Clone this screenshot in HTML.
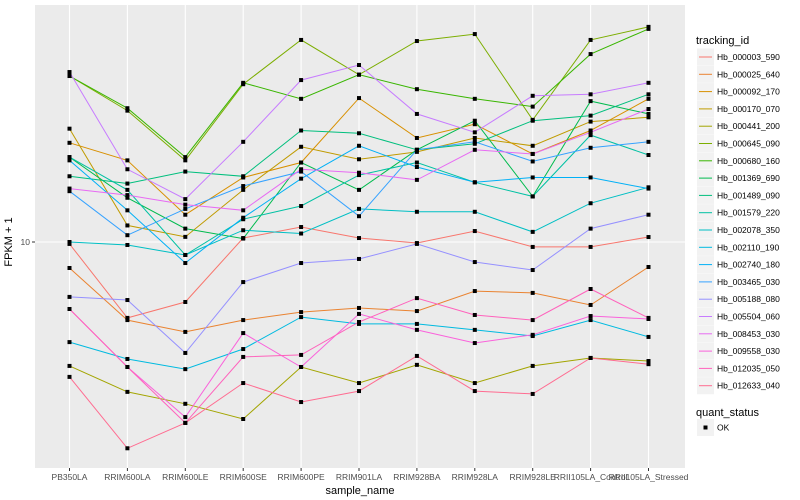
<!DOCTYPE html>
<html><head><meta charset="utf-8"><style>
body{margin:0;background:#fff;font-family:"Liberation Sans",sans-serif}
svg{display:block}
</style></head><body>
<svg id="chart" width="800" height="500">
<rect x="0" y="0" width="800" height="500" fill="#fff"/>
<rect x="35" y="5" width="650" height="463" fill="#ebebeb"/>
<g id="grid"></g>
<g id="series"></g>
<g id="axes"></g>
<text x="12" y="242" transform="rotate(-90 12 242)" text-anchor="middle" font-size="11" fill="#000">FPKM + 1</text>
<text x="360" y="494" text-anchor="middle" font-size="11" fill="#000">sample_name</text>
<g id="legend"></g>
</svg>
<script>
const categories = ["PB350LA","RRIM600LA","RRIM600LE","RRIM600SE","RRIM600PE","RRIM901LA","RRIM928BA","RRIM928LA","RRIM928LE","RRII105LA_Control","RRII105LA_Stressed"];
const seriesNames = ["Hb_000003_590","Hb_000025_640","Hb_000092_170","Hb_000170_070","Hb_000441_200","Hb_000645_090","Hb_000680_160","Hb_001369_690","Hb_001489_090","Hb_001579_220","Hb_002078_350","Hb_002110_190","Hb_002740_180","Hb_003465_030","Hb_005188_080","Hb_005504_060","Hb_008453_030","Hb_009558_030","Hb_012035_050","Hb_012633_040"];
const colors = ["#F8766D","#EA8331","#D89000","#C09B00","#A3A500","#7CAE00","#39B600","#00BB4E","#00BF7D","#00C1A3","#00BFC4","#00BAE0","#00B0F6","#35A2FF","#9590FF","#C77CFF","#E76BF3","#FA62DB","#FF62BC","#FF6C91"];
const s01 = [9.89,6.46,7.08,10.23,10.9,10.23,9.94,10.65,9.72,9.72,10.29];
const s02 = [8.61,6.38,5.96,6.38,6.68,6.84,6.72,7.54,7.46,6.96,8.66];
const s03 = [17.7,16.0,11.7,14.5,15.8,22.9,18.2,19.7,16.6,19.0,22.8];
const s04 = [19.2,11.0,10.3,13.5,17.3,16.1,16.8,18.2,17.4,20.0,20.5];
const s05 = [4.90,4.22,3.94,3.61,4.87,4.44,4.93,4.44,4.90,5.13,5.04];
const s06 = [26.0,21.3,16.0,24.8,32.0,26.2,31.8,33.1,20.2,32.0,34.5];
const s07 = [26.0,21.6,16.3,25.0,22.8,26.2,24.1,22.8,21.8,29.5,34.1];
const s08 = [16.3,12.9,10.8,10.2,15.8,13.5,17.0,20.1,13.0,22.5,20.9];
const s09 = [14.6,14.0,15.0,14.6,19.0,18.7,17.0,17.6,20.1,20.7,23.4];
const s10 = [16.3,13.5,9.28,11.4,12.3,14.7,15.8,14.1,13.0,18.5,16.5];
const s11 = [10.0,9.83,9.28,10.7,10.5,12.1,11.9,11.9,10.6,12.5,13.7];
const s12 = [5.62,5.10,4.81,5.40,6.49,6.24,6.24,6.03,5.82,6.38,5.79];
const s13 = [16.0,12.0,8.86,11.5,14.4,17.4,15.4,14.1,14.5,14.5,13.6];
const s14 = [13.4,10.4,12.1,13.8,15.0,11.6,17.0,17.8,15.9,17.2,17.8];
const s15 = [7.29,7.16,5.28,7.94,8.86,9.07,9.89,8.91,8.51,10.8,11.7];
const s16 = [26.6,15.2,12.8,17.8,25.4,27.7,20.9,18.8,23.2,23.4,25.0];
const s17 = [13.6,13.1,12.4,12.0,15.2,14.9,14.3,17.0,16.6,18.8,21.5];
const s18 = [6.80,4.87,3.65,5.92,4.87,6.61,6.03,5.59,5.86,6.53,6.42];
const s19 = [6.80,4.87,3.53,5.16,5.22,6.31,7.24,6.57,6.38,7.63,6.46];
const s20 = [4.60,3.05,3.53,4.44,3.98,4.24,5.19,4.24,4.17,5.13,4.95];
const yTicks = [10];
const yTickLabels = ["10"];
const allSeries = [s01,s02,s03,s04,s05,s06,s07,s08,s09,s10,s11,s12,s13,s14,s15,s16,s17,s18,s19,s20];

const NS = "http://www.w3.org/2000/svg";
function xScale(i){ return 69.5 + i * 57.9; }
function yScale(v){ return 242 - 400 * Math.log10(v / 10); }
function mk(tag, attrs, parent){ const e = document.createElementNS(NS, tag); for (const k in attrs) e.setAttribute(k, attrs[k]); parent.appendChild(e); return e; }

const grid = document.getElementById('grid');
const axes = document.getElementById('axes');
categories.forEach((c, i) => {
  const gl = mk('line', {x1: xScale(i), x2: xScale(i), y1: 5, y2: 468, stroke: '#fff', 'stroke-width': 1.1}, grid);
  
  
  const tk = mk('line', {x1: xScale(i), x2: xScale(i), y1: 468, y2: 471, stroke: '#333'}, axes);
  
  
  const t = mk('text', {x: xScale(i), y: 480, 'text-anchor': 'middle', 'font-size': 8.5, fill: '#4d4d4d'}, axes);
  t.textContent = c;
  
  
});
yTicks.forEach((v, i) => {
  const gl = mk('line', {x1: 35, x2: 685, y1: yScale(v), y2: yScale(v), stroke: '#fff', 'stroke-width': 1.1}, grid);
  
  
  const tk = mk('line', {x1: 32, x2: 35, y1: yScale(v), y2: yScale(v), stroke: '#333'}, axes);
  
  
  const t = mk('text', {x: 30, y: yScale(v) + 3, 'text-anchor': 'end', 'font-size': 8.5, fill: '#4d4d4d'}, axes);
  t.textContent = yTickLabels[i];
  
  
});

const sg = document.getElementById('series');
allSeries.forEach((vals, si) => {
  const pts = vals.map((v, i) => xScale(i).toFixed(1) + ',' + yScale(v).toFixed(1)).join(' ');
  const pl = mk('polyline', {points: pts, fill: 'none', stroke: colors[si], 'stroke-width': 1}, sg);
  
  
});
allSeries.forEach((vals, si) => {
  vals.forEach((v, i) => {
    const p = mk('rect', {x: xScale(i) - 2, y: yScale(v) - 2, width: 4, height: 4, fill: '#000'}, sg);
    
    
  });
});

const lg = document.getElementById('legend');
const lt = mk('text', {x: 696, y: 44, 'font-size': 11, fill: '#000'}, lg);
lt.textContent = 'tracking_id';


seriesNames.forEach((n, i) => {
  const cy = 57 + i * 17.3;
  const k = mk('rect', {x: 697, y: cy - 8.5, width: 17, height: 17, fill: '#f2f2f2'}, lg);
  
  
  const l = mk('line', {x1: 699, x2: 712, y1: cy, y2: cy, stroke: colors[i], 'stroke-width': 1}, lg);
  
  
  const t = mk('text', {x: 717, y: cy + 3, 'font-size': 8.5, fill: '#000'}, lg);
  t.textContent = n;
  
  
});
const qt = mk('text', {x: 696, y: 416, 'font-size': 11, fill: '#000'}, lg);
qt.textContent = 'quant_status';


const qk = mk('rect', {x: 697, y: 419, width: 17, height: 17, fill: '#f2f2f2'}, lg);


const qp = mk('rect', {x: 703.5, y: 425.5, width: 4, height: 4, fill: '#000'}, lg);


const qtx = mk('text', {x: 717, y: 430.5, 'font-size': 8.5, fill: '#000'}, lg);
qtx.textContent = 'OK';


</script>
</body></html>
